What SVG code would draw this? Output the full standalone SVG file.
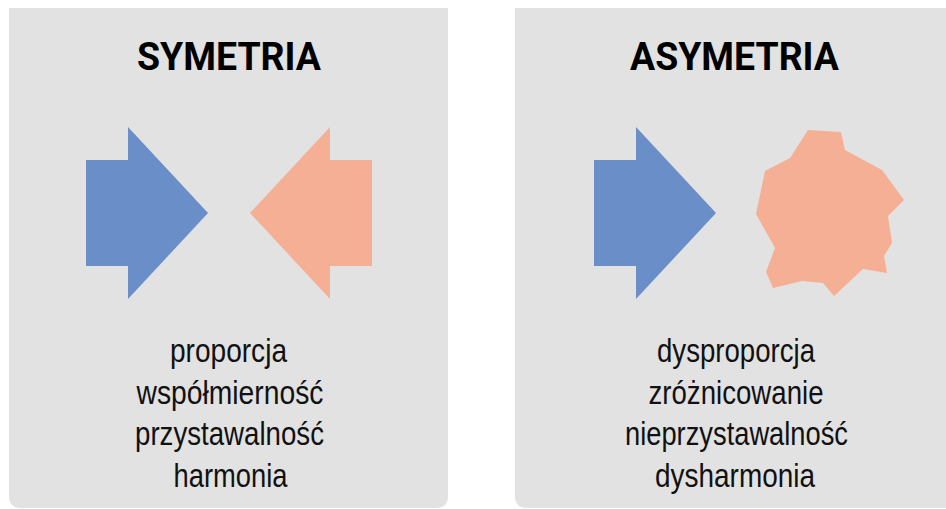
<svg xmlns="http://www.w3.org/2000/svg" width="946" height="509" viewBox="0 0 946 509">
  <style>
    .panel { fill: #e2e2e2; }
    .blue { fill: #6a8ec8; }
    .salmon { fill: #f5af95; }
    .title { font-family: Roboto, "Liberation Sans", sans-serif; font-weight: bold; font-size: 39px; fill: #000; text-anchor: middle; }
    .term { font-family: "Liberation Sans", Arial, sans-serif; font-size: 33px; fill: #111; text-anchor: middle; }
  </style>
  <defs>
    <polygon id="arrowRight" points="86,160 128,160 128,127 208,213 128,299 128,266 86,266"/>
  </defs>

  <!-- left panel: symmetry -->
  <g id="symetria">
    <path class="panel" d="M9,8 H448 V496 Q448,508 436,508 H21 Q9,508 9,496 Z"/>
    <text class="title" x="229" y="70" textLength="184" lengthAdjust="spacingAndGlyphs">SYMETRIA</text>
    <use href="#arrowRight" class="blue"/>
    <polygon class="salmon" points="372,160 330,160 330,127 250,213 330,299 330,266 372,266"/>
    <text class="term" x="228.5" y="362" textLength="117" lengthAdjust="spacingAndGlyphs">proporcja</text>
    <text class="term" x="230" y="404" textLength="187" lengthAdjust="spacingAndGlyphs">współmierność</text>
    <text class="term" x="229.5" y="445" textLength="189" lengthAdjust="spacingAndGlyphs">przystawalność</text>
    <text class="term" x="230.5" y="487" textLength="114" lengthAdjust="spacingAndGlyphs">harmonia</text>
  </g>

  <!-- right panel: asymmetry -->
  <g id="asymetria">
    <path class="panel" d="M515,8 H950 V508 H527 Q515,508 515,496 Z"/>
    <text class="title" x="734.5" y="70" textLength="209" lengthAdjust="spacingAndGlyphs">ASYMETRIA</text>
    <use href="#arrowRight" class="blue" transform="translate(508,0)"/>
    <polygon class="salmon" points="808,130 841,132 845,150 882,170 904,200 888,216 892,243 884,256 887,273 863,269 834,296 823,283 802,281 773,288 766,272 775,248 756,214 765,171 790,158"/>
    <text class="term" x="736" y="362" textLength="158" lengthAdjust="spacingAndGlyphs">dysproporcja</text>
    <text class="term" x="736" y="404" textLength="175" lengthAdjust="spacingAndGlyphs">zróżnicowanie</text>
    <text class="term" x="736.5" y="445" textLength="223" lengthAdjust="spacingAndGlyphs">nieprzystawalność</text>
    <text class="term" x="735" y="487" textLength="160" lengthAdjust="spacingAndGlyphs">dysharmonia</text>
  </g>
</svg>
